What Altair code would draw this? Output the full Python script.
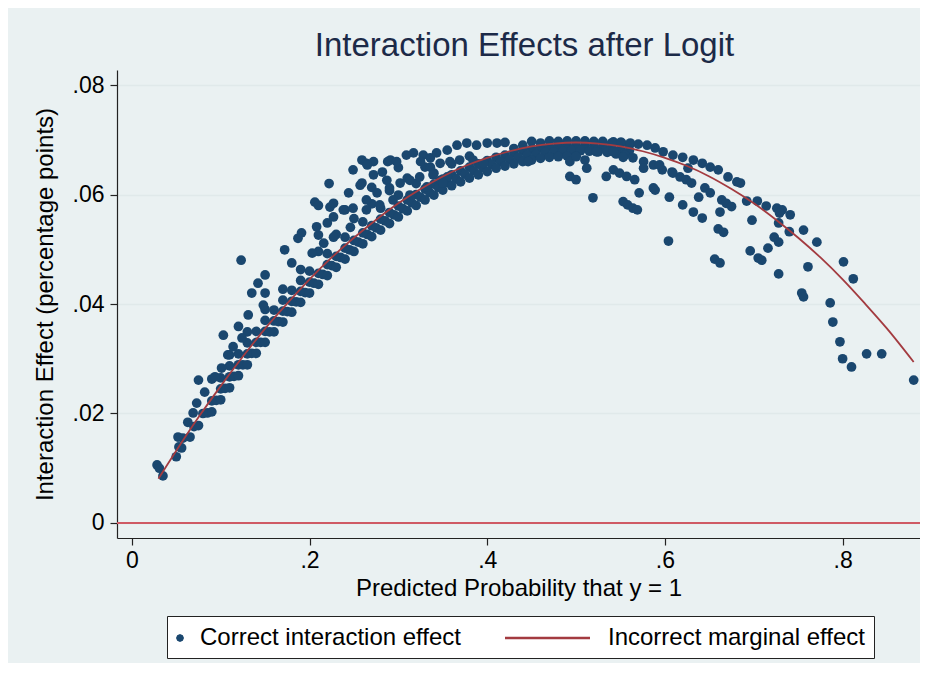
import altair as alt
import pandas as pd

# ---------------- data ----------------
series_names = ["Correct interaction effect", "Incorrect marginal effect"]
x_ticks = [0, 0.2, 0.4, 0.6, 0.8]
y_ticks = [0, 0.02, 0.04, 0.06, 0.08]
zero_line = [0.0]

# Incorrect marginal effect (red curve)
curve_x = [0.03, 0.05, 0.075, 0.10, 0.125, 0.15, 0.175, 0.20, 0.225, 0.25, 0.275, 0.30,
           0.325, 0.35, 0.375, 0.40, 0.425, 0.45, 0.475, 0.50, 0.525, 0.55, 0.575, 0.60,
           0.625, 0.65, 0.675, 0.70, 0.725, 0.75, 0.775, 0.80, 0.825, 0.85, 0.88]
curve_y = [0.0081, 0.0132, 0.0193, 0.0250, 0.0304, 0.0355, 0.0401, 0.0445, 0.0485, 0.0521,
           0.0554, 0.0584, 0.0610, 0.0633, 0.0652, 0.0667, 0.0679, 0.0688, 0.0693, 0.0695,
           0.0693, 0.0688, 0.0679, 0.0667, 0.0652, 0.0633, 0.0610, 0.0584, 0.0554, 0.0521,
           0.0485, 0.0445, 0.0401, 0.0355, 0.0294]

# Correct interaction effect (dots), grouped by the strands visible in the picture
band_a = [(0.07, 0.0176), (0.08, 0.0200), (0.09, 0.0223), (0.10, 0.0245), (0.11, 0.0267),
          (0.12, 0.0289), (0.13, 0.0309), (0.14, 0.0330), (0.15, 0.0350), (0.16, 0.0369),
          (0.17, 0.0387), (0.18, 0.0405), (0.19, 0.0423), (0.20, 0.0440), (0.21, 0.0456),
          (0.22, 0.0472), (0.23, 0.0487), (0.24, 0.0502), (0.25, 0.0516), (0.26, 0.0530),
          (0.27, 0.0543), (0.28, 0.0555), (0.29, 0.0567), (0.30, 0.0579), (0.31, 0.0590),
          (0.32, 0.0600), (0.33, 0.0610), (0.34, 0.0619), (0.35, 0.0628), (0.36, 0.0636),
          (0.37, 0.0643), (0.38, 0.0650), (0.39, 0.0656), (0.40, 0.0662), (0.41, 0.0668),
          (0.42, 0.0672), (0.43, 0.0676), (0.44, 0.0680), (0.45, 0.0683), (0.46, 0.0686),
          (0.47, 0.0688), (0.48, 0.0689), (0.49, 0.0690), (0.50, 0.0690), (0.51, 0.0690),
          (0.52, 0.0689), (0.53, 0.0688), (0.54, 0.0686), (0.55, 0.0683), (0.56, 0.0680)]

band_b = [(0.075, 0.0178), (0.085, 0.0201), (0.095, 0.0224), (0.105, 0.0246), (0.115, 0.0268),
          (0.125, 0.0289), (0.135, 0.0310), (0.145, 0.0330), (0.155, 0.0349), (0.165, 0.0368),
          (0.175, 0.0386), (0.185, 0.0404), (0.195, 0.0421), (0.205, 0.0438), (0.215, 0.0454),
          (0.225, 0.0470), (0.235, 0.0485), (0.245, 0.0499), (0.255, 0.0513), (0.265, 0.0527),
          (0.275, 0.0539), (0.285, 0.0552), (0.295, 0.0563), (0.305, 0.0574), (0.315, 0.0585),
          (0.325, 0.0595), (0.335, 0.0604), (0.345, 0.0613), (0.355, 0.0622), (0.365, 0.0629),
          (0.375, 0.0637), (0.385, 0.0643), (0.395, 0.0649), (0.405, 0.0655), (0.415, 0.0660),
          (0.425, 0.0664), (0.435, 0.0668), (0.445, 0.0672), (0.455, 0.0674), (0.465, 0.0677),
          (0.475, 0.0678), (0.485, 0.0679), (0.495, 0.0680), (0.505, 0.0680), (0.515, 0.0679),
          (0.525, 0.0678), (0.535, 0.0677), (0.545, 0.0674), (0.555, 0.0672)]

band_c = [(0.09, 0.0203), (0.10, 0.0225), (0.11, 0.0247), (0.12, 0.0269), (0.13, 0.0289),
          (0.14, 0.0310), (0.15, 0.0330), (0.16, 0.0349), (0.17, 0.0367), (0.18, 0.0385),
          (0.19, 0.0403), (0.20, 0.0420), (0.21, 0.0436), (0.22, 0.0452), (0.23, 0.0467),
          (0.24, 0.0482), (0.25, 0.0496), (0.26, 0.0510), (0.27, 0.0523), (0.28, 0.0535),
          (0.29, 0.0547), (0.30, 0.0559), (0.31, 0.0570), (0.32, 0.0580), (0.33, 0.0590),
          (0.34, 0.0599), (0.35, 0.0608), (0.36, 0.0616), (0.37, 0.0623), (0.38, 0.0630),
          (0.39, 0.0636), (0.40, 0.0642), (0.41, 0.0648), (0.42, 0.0652), (0.43, 0.0656),
          (0.44, 0.0660), (0.45, 0.0663), (0.46, 0.0666), (0.47, 0.0668), (0.48, 0.0669),
          (0.49, 0.0670), (0.50, 0.0670)]

strand_1 = [(0.10, 0.0265), (0.11, 0.0287), (0.12, 0.0309), (0.13, 0.0329), (0.14, 0.0350),
            (0.15, 0.0370), (0.16, 0.0389), (0.17, 0.0407), (0.18, 0.0425), (0.19, 0.0443),
            (0.20, 0.0460), (0.22, 0.0492), (0.24, 0.0522), (0.26, 0.0550), (0.28, 0.0575),
            (0.30, 0.0599), (0.32, 0.0620), (0.34, 0.0639), (0.36, 0.0656), (0.38, 0.0670)]

strand_2 = [(0.09, 0.0263), (0.11, 0.0307), (0.13, 0.0349), (0.15, 0.0390), (0.17, 0.0427),
            (0.19, 0.0463), (0.21, 0.0496), (0.23, 0.0527), (0.25, 0.0556), (0.27, 0.0583),
            (0.29, 0.0607), (0.31, 0.0630), (0.33, 0.0650)]

strand_3 = [(0.12, 0.0359), (0.15, 0.0420), (0.18, 0.0475), (0.21, 0.0526), (0.24, 0.0572),
            (0.27, 0.0613), (0.30, 0.0649)]

upper_left = [(0.0284, 0.0106), (0.031, 0.0100), (0.035, 0.0086), (0.050, 0.0121), (0.053, 0.0139),
              (0.056, 0.0137), (0.0575, 0.0155), (0.052, 0.0157), (0.063, 0.0184), (0.0655, 0.0157),
              (0.069, 0.0201), (0.073, 0.0219), (0.075, 0.0261), (0.082, 0.0239), (0.0936, 0.0267),
              (0.101, 0.0283), (0.103, 0.0343), (0.108, 0.0307), (0.114, 0.0322), (0.123, 0.0480),
              (0.124, 0.0338), (0.131, 0.0380), (0.135, 0.0420), (0.142, 0.0438), (0.150, 0.0453),
              (0.148, 0.0398), (0.172, 0.0499), (0.187, 0.0520), (0.191, 0.0530), (0.203, 0.0493),
              (0.206, 0.0586), (0.210, 0.0580), (0.222, 0.0620), (0.223, 0.0577), (0.227, 0.0584),
              (0.208, 0.0541), (0.220, 0.0548), (0.227, 0.0559), (0.238, 0.0572), (0.249, 0.0575),
              (0.216, 0.0511), (0.227, 0.0522), (0.246, 0.0540), (0.244, 0.0603), (0.249, 0.0645),
              (0.259, 0.0663), (0.264, 0.0657), (0.272, 0.0660), (0.288, 0.0660), (0.287, 0.0626),
              (0.259, 0.0621), (0.272, 0.0636), (0.265, 0.0654), (0.257, 0.0617), (0.282, 0.0641),
              (0.291, 0.0663), (0.298, 0.0660), (0.309, 0.0672), (0.317, 0.0676), (0.328, 0.0672),
              (0.336, 0.0667), (0.343, 0.0676), (0.355, 0.0681), (0.366, 0.0690), (0.377, 0.0694),
              (0.388, 0.0690), (0.400, 0.0694), (0.411, 0.0694), (0.420, 0.0695), (0.325, 0.0660),
              (0.336, 0.0650), (0.347, 0.0657), (0.358, 0.0660), (0.369, 0.0663), (0.384, 0.0663),
              (0.396, 0.0657), (0.264, 0.0590), (0.276, 0.0603), (0.290, 0.0612), (0.302, 0.0621),
              (0.313, 0.0626), (0.324, 0.0632), (0.339, 0.0636), (0.347, 0.0626), (0.355, 0.0632),
              (0.264, 0.0572), (0.279, 0.0581), (0.294, 0.0590), (0.313, 0.0599), (0.332, 0.0614),
              (0.350, 0.0621)]

peak_top = [(0.43, 0.0684), (0.44, 0.0690), (0.45, 0.0697), (0.46, 0.0694), (0.47, 0.0698),
            (0.48, 0.0697), (0.49, 0.0698), (0.50, 0.0698), (0.51, 0.0698), (0.52, 0.0697),
            (0.53, 0.0697), (0.54, 0.0694), (0.55, 0.0695), (0.56, 0.0690)]

right_side = [(0.542, 0.0696), (0.551, 0.0695), (0.561, 0.0694), (0.570, 0.0692), (0.580, 0.0690),
              (0.589, 0.0685), (0.598, 0.0678), (0.609, 0.0672), (0.620, 0.0668), (0.632, 0.0663),
              (0.642, 0.0657), (0.651, 0.0650), (0.660, 0.0645), (0.542, 0.0678), (0.553, 0.0668),
              (0.564, 0.0667), (0.576, 0.0660), (0.587, 0.0654), (0.597, 0.0645), (0.608, 0.0641),
              (0.617, 0.0632), (0.446, 0.0660), (0.493, 0.0660), (0.500, 0.0669), (0.510, 0.0663),
              (0.512, 0.0648), (0.523, 0.0678), (0.493, 0.0633), (0.500, 0.0627), (0.519, 0.0594),
              (0.534, 0.0633), (0.542, 0.0645), (0.549, 0.0639), (0.557, 0.0633), (0.566, 0.0627),
              (0.553, 0.0587), (0.558, 0.0581), (0.564, 0.0575), (0.569, 0.0572), (0.571, 0.0603),
              (0.587, 0.0612), (0.589, 0.0608), (0.605, 0.0595), (0.604, 0.0515), (0.576, 0.0648),
              (0.594, 0.0654), (0.609, 0.0639), (0.626, 0.0648), (0.671, 0.0632), (0.681, 0.0623),
              (0.685, 0.0621), (0.624, 0.0627), (0.630, 0.0621), (0.645, 0.0612), (0.651, 0.0603),
              (0.638, 0.0595), (0.620, 0.0581), (0.632, 0.0568), (0.642, 0.0557), (0.664, 0.0590),
              (0.669, 0.0584), (0.675, 0.0578), (0.662, 0.0568), (0.660, 0.0537), (0.666, 0.0531),
              (0.656, 0.0482), (0.662, 0.0475)]

right_tail = [(0.692, 0.0588), (0.704, 0.0588), (0.714, 0.0579), (0.726, 0.0575), (0.732, 0.0572),
              (0.741, 0.0563), (0.729, 0.0566), (0.698, 0.0553), (0.728, 0.0548), (0.740, 0.0532),
              (0.756, 0.0535), (0.771, 0.0513), (0.723, 0.0522), (0.728, 0.0513), (0.716, 0.0502),
              (0.696, 0.0497), (0.705, 0.0484), (0.709, 0.0480), (0.728, 0.0455), (0.754, 0.0420),
              (0.756, 0.0413), (0.761, 0.0468), (0.786, 0.0402), (0.789, 0.0367), (0.801, 0.0477),
              (0.812, 0.0446), (0.797, 0.0331), (0.800, 0.0300), (0.810, 0.0285), (0.827, 0.0309),
              (0.844, 0.0309), (0.880, 0.0261)]

# ---------------- tables ----------------
groups = [band_a, band_b, band_c, strand_1, strand_2, strand_3, upper_left, peak_top,
          right_side, right_tail]
pts_df = pd.DataFrame([p for g in groups for p in g], columns=["p", "ie"])
curve_df = pd.DataFrame({"p": curve_x, "ie": curve_y})
zero_df = pd.DataFrame({"ie": zero_line})
legend_df = pd.DataFrame({"series": series_names})

# ---------------- styling ----------------
FONT = "Liberation Sans"
NAVY = "#1a476f"
RED = "#a33b40"
ZERO_RED = "#cf5a64"
AXIS = "#222222"

# legend symbols (custom paths, scaled by sqrt(symbolSize)/2 = 12.5 px per unit)
DOT_PATH = ("M -0.512 0 L -0.573 0.147 L -0.72 0.208 L -0.867 0.147 L -0.928 0 "
            "L -0.867 -0.147 L -0.72 -0.208 L -0.573 -0.147 Z "
            "M -0.656 0 L -0.675 0.045 L -0.72 0.064 L -0.765 0.045 L -0.784 0 "
            "L -0.765 -0.045 L -0.72 -0.064 L -0.675 -0.045 Z")
LINE_PATH = "M -7.36 0 L -0.56 0"

xscale = alt.Scale(domain=[-0.0167, 0.8871], nice=False, zero=False)
yscale = alt.Scale(domain=[-0.00274, 0.08274], nice=False, zero=False)

xaxis = alt.Axis(
    values=x_ticks,
    labelExpr="datum.value == 0 ? '0' : replace(format(datum.value, '.1f'), '0.', '.')",
    title="Predicted Probability that y = 1",
    grid=False, tickSize=7, labelPadding=4, titlePadding=4,
    labelFontSize=23, titleFontSize=24,
)
yaxis = alt.Axis(
    values=y_ticks,
    labelExpr="datum.value == 0 ? '0' : replace(format(datum.value, '.2f'), '0.', '.')",
    title="Interaction Effect (percentage points)",
    grid=True, gridColor="#e0e9ea", gridWidth=1.6,
    tickSize=7, labelPadding=6, titlePadding=15,
    labelFontSize=23, titleFontSize=24,
)

points = alt.Chart(pts_df).mark_circle(size=95, color=NAVY, opacity=1).encode(
    x=alt.X("p:Q", scale=xscale, axis=xaxis),
    y=alt.Y("ie:Q", scale=yscale, axis=yaxis),
)

curve = alt.Chart(curve_df).mark_line(color=RED, strokeWidth=1.8, interpolate="monotone").encode(
    x="p:Q", y="ie:Q"
)

zero = alt.Chart(zero_df).mark_rule(color=ZERO_RED, strokeWidth=2.2).encode(y="ie:Q")

legend_def = alt.Legend(
    title=None, orient="none", legendX=50, legendY=546,
    direction="horizontal", columns=2,
    symbolSize=625, symbolStrokeWidth=2.6, symbolOpacity=1,
    labelOffset={"expr": "-3"}, labelFontSize=24, labelFont=FONT, labelColor="black",
    labelLimit=600,
    padding=8, fillColor="white", strokeColor=AXIS, columnPadding=37,
)

legend_layer = alt.Chart(legend_df).transform_filter("false").mark_point(
    filled=False, opacity=1, strokeWidth=2.6
).encode(
    color=alt.Color("series:N", scale=alt.Scale(domain=series_names, range=[NAVY, RED]),
                    legend=legend_def),
    shape=alt.Shape("series:N", scale=alt.Scale(domain=series_names, range=[DOT_PATH, LINE_PATH]),
                    legend=legend_def),
)

chart = alt.layer(points, curve, zero, legend_layer).properties(
    width=803,
    height=468,
    padding={"left": 109, "top": 62, "right": 0, "bottom": 125},
    autosize=alt.AutoSizeParams(type="none"),
    title=alt.Title("Interaction Effects after Logit", fontSize=33, font=FONT,
                    fontWeight="normal", color="#1c2a48", anchor="middle", offset=7, dx=6),
).configure(
    background="#eaf1f2",
    font=FONT,
).configure_view(
    fill="white", stroke=None,
).configure_axis(
    domainColor=AXIS, tickColor=AXIS, domainWidth=1.2, tickWidth=1.2,
    labelColor="black", titleColor="black", labelFont=FONT, titleFont=FONT,
    titleFontWeight="normal",
)

chart.save("out.html", embed_options={"renderer": "svg", "actions": False})
